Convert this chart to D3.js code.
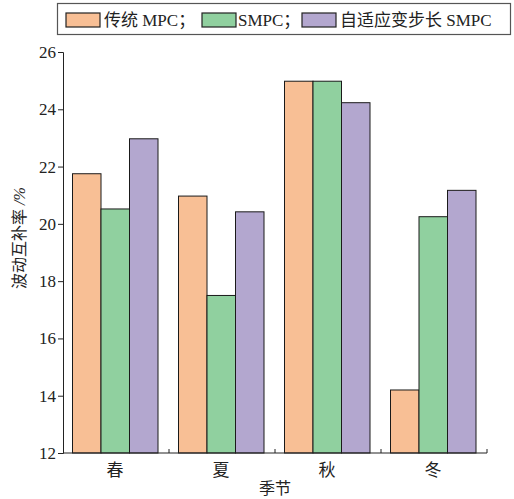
<!DOCTYPE html>
<html><head><meta charset="utf-8">
<script src="https://cdn.jsdelivr.net/npm/d3@7"></script>
<style>
body{margin:0;background:#fff;}
text{font-family:"Liberation Serif","Noto Sans CJK SC",serif;fill:#222;}
</style></head>
<body><svg id="c" width="514" height="499"></svg>
<script>
const seasons = ["春","夏","秋","冬"];
const seriesNames = ["传统 MPC；","SMPC；","自适应变步长 SMPC"];
const mpc = [21.75, 20.97, 24.98, 14.2];
const smpc = [20.52, 17.5, 24.98, 20.25];
const adaptive = [22.97, 20.42, 24.23, 21.17];
const yTicks = [12,14,16,18,20,22,24,26];
const colors = ["#F8BF95","#90D09F","#B3A7CF"];

const series = [mpc, smpc, adaptive];
const svg = d3.select("#c");
const L = 63, R = 487, T = 52, B = 453;

const x0 = d3.scaleBand().domain(seasons).range([L, R]).padding(0);
const x1 = d3.scaleBand().domain(d3.range(series.length)).range([9.5, 95]).padding(0);
const y = d3.scaleLinear().domain([12, 26]).range([B, T]);

// bars
const g = svg.append("g");
seasons.forEach((s, i) => {
  series.forEach((arr, j) => {
    g.append("rect")
      .attr("x", x0(s) + x1(j))
      .attr("y", y(arr[i]))
      .attr("width", x1.bandwidth())
      .attr("height", y(12) - y(arr[i]))
      .attr("fill", colors[j])
      .attr("stroke", "#1a1a1a")
      .attr("stroke-width", 1);
  });
});

// y axis
const yAxis = d3.axisLeft(y).tickValues(yTicks).tickSize(5).tickPadding(2).tickFormat(d3.format("d"));
const ya = svg.append("g").attr("transform", `translate(${L},0)`).call(yAxis);
ya.select(".domain").attr("stroke", "#222");
ya.selectAll(".tick line").attr("stroke", "#222");
ya.selectAll(".tick text").attr("font-size", 17).attr("fill", "#222");

// x axis: boundary ticks pointing inward
const xa = svg.append("g").attr("transform", `translate(0,${B})`);
xa.append("line").attr("x1", L).attr("x2", R).attr("stroke", "#222");
seasons.forEach(s => {
  const xb = x0(s) + x0.bandwidth();
  xa.append("line").attr("x1", xb).attr("x2", xb).attr("y1", 0).attr("y2", -4).attr("stroke", "#222");
  xa.append("text").attr("x", x0(s) + x0.bandwidth()/2 - 1).attr("y", 23)
    .attr("text-anchor", "middle").attr("font-size", 17).text(s);
});
svg.append("text").attr("x", (L+R)/2).attr("y", 494).attr("text-anchor", "middle")
  .attr("font-size", 16).text("季节");

// y label
const yl = svg.append("text").attr("transform", "translate(25,238) rotate(-90)")
  .attr("text-anchor", "middle").attr("font-size", 16);
yl.append("tspan").text("波动互补率 ");
yl.append("tspan").attr("font-style", "italic").text("/%");

// legend
const lg = svg.append("g");
lg.append("rect").attr("x", 57.5).attr("y", 3.5).attr("width", 453).attr("height", 31)
  .attr("fill", "#fff").attr("stroke", "#555").attr("stroke-width", 1.2);
const swX = [66, 202, 302];
seriesNames.forEach((n, j) => {
  lg.append("rect").attr("x", swX[j]).attr("y", 13).attr("width", 34).attr("height", 14)
    .attr("fill", colors[j]).attr("stroke", "#222").attr("stroke-width", 1.2);
  lg.append("text").attr("x", swX[j] + 38 + (j===1?-2:0)).attr("y", 26).attr("font-size", 17).text(n);
});
</script></body></html>
